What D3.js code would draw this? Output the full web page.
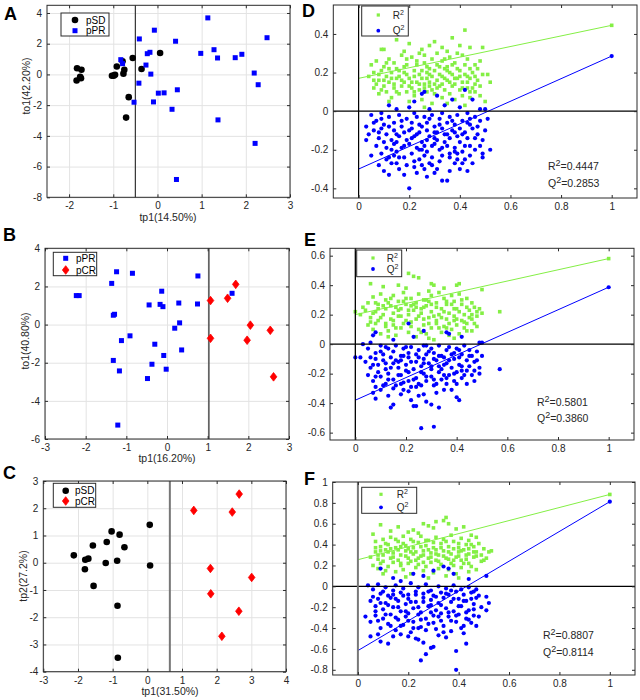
<!DOCTYPE html>
<html><head><meta charset="utf-8">
<script src="https://cdn.jsdelivr.net/npm/d3@7"></script>
<style>body{margin:0;background:#fff}svg{display:block;font-family:"Liberation Sans",Arial,sans-serif}</style>
</head><body><svg id="c" width="640" height="700"></svg>
<script>
// ---------- data: score plots ----------
const aSD = [[-1.82,0.4],[-1.72,0.3],[-1.83,-0.4],[-1.75,-0.15],[-1.73,-0.25],[-1.03,-0.09],[-0.96,-0.02],[-0.99,-0.08],[-0.92,0.52],[-0.79,0.85],[-0.75,0.3],[-0.77,0.05],[-0.56,1.07],[-0.36,0.35],[0.06,1.39],[-0.65,-1.48],[-0.71,-2.81]];
const aPR = [[-0.83,0.96],[-0.79,0.7],[-0.41,2.31],[-0.07,2.88],[0.41,2.16],[1.14,3.68],[-0.23,1.35],[-0.17,1.44],[-0.26,0.61],[-0.15,0.02],[-0.42,-0.57],[-0.53,-1.81],[-0.09,-1.79],[0.02,-1.22],[0.15,-1.2],[0.45,-1.0],[0.33,-2.27],[0.43,-6.84],[0.98,1.37],[1.28,1.61],[1.36,1.07],[1.76,1.09],[1.91,1.31],[2.19,0.09],[2.28,-0.67],[2.48,2.39],[1.37,-2.96],[2.21,-4.49]];
const bPR = [[-2.23,1.52],[-2.16,1.52],[-1.24,2.77],[-0.85,2.69],[-1.36,2.16],[-1.32,0.49],[-1.29,0.54],[-0.91,-0.59],[-1.12,-0.84],[-1.32,-1.88],[-1.17,-2.43],[-1.21,-5.27],[-0.44,1.03],[-0.13,1.75],[-0.17,1.06],[-0.10,0.94],[-0.3,-1.03],[-0.08,-1.62],[-0.37,-2.08],[-0.02,-2.34],[-0.48,-2.83],[0.29,1.13],[0.31,0.09],[0.19,-0.19],[0.36,-1.33],[0.76,2.55],[0.75,1.08],[1.6,1.64]];
const bCR = [[1.07,1.26],[1.07,-0.72],[1.49,1.38],[1.69,2.11],[2.05,-0.03],[1.97,-0.82],[2.54,-0.3],[2.62,-2.74]];
const cSD = [[-2.12,0.27],[-1.79,0.11],[-1.70,0.15],[-1.80,-0.24],[-1.57,0.63],[-1.55,-0.85],[-1.17,0.76],[-1.03,1.15],[-1.20,-0.01],[-0.87,0.07],[-0.80,1.03],[-0.66,0.57],[-0.86,-1.58],[-0.85,-3.49],[0.07,1.39],[0.08,-0.1]];
const cCR = [[1.34,1.92],[2.65,2.52],[2.45,1.86],[1.82,-0.21],[3.01,-0.54],[1.83,-1.14],[2.64,-1.78],[2.15,-2.7]];
const splitA = -0.5, splitB = 1.03, splitC = 0.65;
const labelsA = ["pSD","pPR"], labelsB = ["pPR","pCR"], labelsC = ["pSD","pCR"];
const axisTitles = {A:["tp1(14.50%)","to1(42.20%)"],B:["tp1(16.20%)","to1(40.80%)"],C:["tp1(31.50%)","tp2(27.2%)"]};

// ---------- data: permutation tests ----------
const dR2pts = [[.15,.37],[.42,.42],[.20,.35],[.37,.38],[.10,.32],[.09,.32],[.30,.36],[.33,.33],[.25,.32],[.40,.34],[.44,.33],[.49,.33],[.28,.34],[.18,.31],[.35,.31],
[.07,.26],[.12,.27],[.14,.25],[.17,.29],[.21,.28],[.23,.26],[.26,.29],[.29,.27],[.31,.30],[.33,.26],[.36,.28],[.38,.25],[.41,.29],[.43,.27],[.46,.24],[.48,.26],[.10,.23],[.19,.24],[.27,.23],[.35,.23],[.44,.22],[.05,.24],[.24,.30],[.39,.30],[.15,.22],
[.04,.18],[.06,.20],[.08,.16],[.09,.21],[.11,.18],[.12,.15],[.13,.20],[.15,.17],[.16,.21],[.18,.15],[.19,.19],[.20,.17],[.22,.21],[.23,.15],[.24,.19],[.25,.17],[.27,.20],[.28,.15],[.29,.18],[.30,.21],[.31,.16],[.32,.19],[.34,.17],[.35,.21],[.36,.15],[.37,.19],[.39,.17],[.40,.21],[.41,.15],[.42,.19],[.44,.17],[.45,.20],[.47,.16],[.49,.19],[.51,.19],[.52,.15],[.07,.14],[.26,.14],[.33,.14],[.46,.14],
[.06,.12],[.08,.09],[.10,.13],[.11,.10],[.13,.07],[.14,.12],[.16,.09],[.17,.13],[.19,.10],[.21,.12],[.22,.08],[.24,.11],[.25,.06],[.27,.10],[.28,.13],[.30,.09],[.31,.12],[.33,.07],[.34,.11],[.36,.09],[.37,.13],[.38,.06],[.40,.11],[.41,.08],[.43,.12],[.44,.07],[.46,.10],[.48,.08],[.50,.05],[.12,.05],[.20,.05],[.29,.04],[.35,.04],[.42,.03],[.26,.02],
[.08,.19],[.10,.16],[.12,.22],[.14,.14],[.16,.18],[.18,.23],[.20,.13],[.22,.18],[.23,.24],[.25,.21],[.26,.12],[.28,.22],[.29,.11],[.31,.24],[.32,.13],[.34,.22],[.35,.16],[.37,.24],[.38,.14],[.40,.18],[.42,.24],[.43,.15],[.45,.12],[.47,.22],[.09,.11],[.11,.25],[.13,.17],[.17,.16],[.19,.27],[.21,.15],[.24,.14],[.27,.17],[.30,.14],[.33,.18],[.36,.20],[.39,.22],[.41,.12],[.44,.10],[.46,.18],[.48,.13],[.15,.10],[.22,.10],[.28,.19],[.32,.23],[.38,.17],[.43,.18],[.06,.16],[.18,.20],[.26,.25],[.34,.27]];
const dQ2pts = [[.42,.11],[.26,.10],[.25,.09],[.31,.08],[.37,.06],[.45,.06],[.22,.05],[.12,.03],[.34,.03],[.20,.02],[.40,.02],[.48,.01],[.50,.01],[.15,.01],[.28,.01],
[.05,-.02],[.07,-.05],[.09,-.01],[.10,-.07],[.12,-.03],[.14,-.06],[.16,-.02],[.17,-.08],[.19,-.04],[.21,-.06],[.22,-.01],[.24,-.07],[.26,-.03],[.27,-.06],[.29,-.02],[.30,-.08],[.32,-.04],[.33,-.01],[.35,-.06],[.36,-.03],[.38,-.07],[.39,-.02],[.41,-.05],[.43,-.01],[.44,-.07],[.46,-.03],[.48,-.05],[.51,-.04],[.03,-.08],
[.04,-.12],[.06,-.10],[.08,-.14],[.09,-.09],[.11,-.12],[.13,-.15],[.14,-.10],[.16,-.13],[.18,-.11],[.19,-.15],[.21,-.09],[.22,-.13],[.24,-.11],[.25,-.16],[.27,-.10],[.28,-.13],[.30,-.11],[.31,-.15],[.33,-.09],[.34,-.12],[.36,-.14],[.37,-.10],[.39,-.13],[.40,-.16],[.42,-.11],[.43,-.14],[.45,-.09],[.47,-.12],[.49,-.15],[.52,-.20],
[.03,-.15],[.05,-.23],[.07,-.18],[.09,-.22],[.11,-.19],[.12,-.24],[.14,-.17],[.15,-.21],[.17,-.19],[.18,-.24],[.20,-.17],[.21,-.22],[.23,-.19],[.24,-.25],[.26,-.18],[.27,-.21],[.29,-.24],[.30,-.17],[.32,-.20],[.33,-.23],[.35,-.18],[.36,-.22],[.38,-.19],[.39,-.25],[.41,-.21],[.42,-.18],[.44,-.23],[.46,-.20],[.49,-.22],[.49,-.24],
[.08,-.28],[.10,-.31],[.12,-.33],[.13,-.27],[.16,-.30],[.18,-.33],[.20,-.40],[.22,-.29],[.23,-.32],[.25,-.28],[.27,-.34],[.28,-.27],[.31,-.30],[.33,-.36],[.35,-.36],[.36,-.31],[.38,-.27],[.40,-.30],[.41,-.27],[.43,-.31],[.15,-.27],[.30,-.32],[.26,-.30],
[.06,-.06],[.08,-.11],[.10,-.16],[.12,-.08],[.13,-.20],[.15,-.12],[.17,-.05],[.18,-.18],[.20,-.10],[.21,-.14],[.23,-.03],[.24,-.20],[.25,-.08],[.27,-.15],[.28,-.04],[.29,-.18],[.31,-.11],[.32,-.07],[.34,-.16],[.35,-.12],[.37,-.05],[.38,-.21],[.40,-.09],[.41,-.12],[.43,-.06],[.44,-.18],[.46,-.14],[.47,-.08],[.50,-.10],[.11,-.25],[.14,-.23],[.19,-.28],[.22,-.26],[.26,-.23],[.29,-.28],[.32,-.26],[.36,-.24],[.39,-.22],[.42,-.25],[.45,-.27],[.09,-.04],[.15,-.16],[.23,-.12],[.30,-.14],[.33,-.19],[.38,-.11],[.44,-.04],[.48,-.18],[.16,-.24],[.25,-.20]];
const eR2pts = [[.00,.22],[.57,.22],[.21,.48],[.23,.46],[.06,.41],[.25,.45],[.41,.41],[.40,.40],[.30,.41],[.31,.40],[.11,.39],[.17,.40],[.29,.36],[.50,.37],[.35,.38],[.20,.38],
[.05,.28],[.07,.32],[.09,.27],[.10,.34],[.12,.30],[.14,.26],[.15,.33],[.17,.29],[.19,.35],[.20,.27],[.22,.31],[.24,.28],[.25,.34],[.27,.30],[.28,.26],[.30,.33],[.32,.28],[.33,.35],[.35,.31],[.36,.27],[.38,.33],[.39,.29],[.41,.34],[.42,.27],[.44,.31],[.46,.28],[.47,.25],[.03,.25],[.48,.22],
[.02,.20],[.04,.23],[.06,.18],[.08,.22],[.09,.16],[.11,.20],[.12,.24],[.14,.17],[.15,.21],[.17,.19],[.18,.24],[.20,.16],[.21,.20],[.23,.23],[.24,.17],[.26,.21],[.27,.25],[.29,.18],[.30,.22],[.32,.16],[.33,.20],[.34,.24],[.36,.17],[.37,.21],[.39,.19],[.40,.24],[.42,.16],[.43,.20],[.45,.23],[.46,.17],[.48,.19],[.50,.21],
[.05,.13],[.07,.10],[.08,.14],[.10,.07],[.12,.12],[.13,.09],[.15,.13],[.16,.06],[.18,.11],[.19,.14],[.21,.08],[.22,.12],[.24,.05],[.25,.10],[.27,.13],[.28,.07],[.30,.11],[.31,.03],[.32,.14],[.34,.08],[.35,.12],[.37,.06],[.38,.10],[.40,.13],[.41,.07],[.43,.11],[.44,.14],[.46,.09],[.48,.12],[.39,.04],[.13,.05],[.29,.04],
[.07,.21],[.09,.24],[.10,.18],[.12,.14],[.13,.28],[.15,.16],[.16,.25],[.18,.19],[.19,.29],[.21,.23],[.22,.15],[.23,.27],[.25,.19],[.26,.24],[.28,.30],[.29,.14],[.31,.19],[.32,.25],[.33,.11],[.35,.22],[.36,.29],[.37,.14],[.39,.24],[.40,.17],[.42,.30],[.43,.15],[.44,.25],[.46,.20],[.47,.14],[.49,.24],[.08,.28],[.11,.26],[.14,.31],[.17,.23],[.20,.31],[.24,.25],[.27,.17],[.30,.27],[.34,.18],[.38,.27],[.41,.22],[.45,.18],[.06,.15],[.16,.11],[.26,.08],[.36,.11],[.44,.09],[.29,.29],[.22,.26],[.39,.16]];
const eQ2pts = [[.00,-.09],[.57,-.17],[.26,-.57],[.31,-.56],[.21,.14],[.08,.08],[.27,.09],[.36,.08],[.37,.07],[.03,.00],[.07,.06],[.49,.01],[.50,.01],[.15,.03],[.23,.05],[.42,.05],
[.05,-.03],[.08,-.06],[.10,-.01],[.11,-.07],[.13,-.03],[.15,-.05],[.16,-.01],[.18,-.08],[.19,-.03],[.21,-.06],[.22,-.02],[.24,-.07],[.25,-.04],[.27,-.01],[.28,-.07],[.30,-.03],[.31,-.06],[.33,-.01],[.34,-.08],[.36,-.04],[.37,-.02],[.39,-.06],[.40,-.03],[.42,-.07],[.43,-.01],[.45,-.04],[.46,-.08],[.48,-.05],[.50,-.08],[.06,.01],
[.04,-.12],[.06,-.16],[.08,-.10],[.09,-.14],[.11,-.11],[.12,-.17],[.14,-.09],[.15,-.13],[.17,-.16],[.18,-.11],[.20,-.14],[.21,-.09],[.23,-.17],[.24,-.12],[.26,-.15],[.27,-.10],[.29,-.13],[.30,-.17],[.32,-.11],[.33,-.15],[.35,-.09],[.36,-.13],[.38,-.16],[.39,-.10],[.41,-.14],[.42,-.18],[.44,-.11],[.45,-.15],[.47,-.12],[.49,-.16],[.02,-.09],
[.05,-.21],[.07,-.25],[.08,-.29],[.10,-.22],[.12,-.27],[.13,-.20],[.15,-.24],[.16,-.28],[.18,-.21],[.19,-.26],[.21,-.19],[.22,-.29],[.24,-.23],[.25,-.27],[.27,-.20],[.28,-.25],[.30,-.22],[.31,-.28],[.33,-.19],[.34,-.24],[.36,-.27],[.37,-.21],[.39,-.25],[.40,-.19],[.42,-.23],[.44,-.27],[.46,-.21],[.47,-.25],[.49,-.20],
[.07,-.33],[.08,-.37],[.10,-.31],[.14,-.43],[.15,-.41],[.18,-.34],[.21,-.32],[.22,-.38],[.23,-.42],[.24,-.42],[.25,-.35],[.27,-.34],[.28,-.39],[.30,-.41],[.33,-.43],[.35,-.31],[.40,-.36],[.41,-.38],[.13,-.35],[.19,-.31],[.32,-.33],[.38,-.31],
[.06,-.09],[.07,-.14],[.09,-.19],[.10,-.05],[.12,-.13],[.13,-.24],[.14,-.16],[.16,-.11],[.17,-.21],[.19,-.08],[.20,-.18],[.22,-.12],[.23,-.24],[.25,-.09],[.26,-.19],[.27,-.13],[.29,-.05],[.30,-.15],[.31,-.24],[.33,-.08],[.34,-.17],[.35,-.21],[.37,-.11],[.38,-.07],[.39,-.20],[.41,-.09],[.42,-.15],[.43,-.21],[.45,-.08],[.47,-.18],[.08,-.22],[.11,-.28],[.15,-.30],[.18,-.27],[.21,-.25],[.24,-.29],[.28,-.22],[.32,-.27],[.36,-.23],[.40,-.27],[.44,-.18],[.48,-.11],[.12,-.02],[.20,-.02],[.28,-.01],[.35,-.14],[.26,-.28],[.17,-.12],[.31,-.10],[.41,-.04]];
const fR2pts = [[.35,.66],[.31,.62],[.34,.63],[.09,.59],[.26,.60],[.28,.58],[.16,.57],[.22,.54],[.20,.52],[.36,.60],[.30,.56],[.42,.57],[.13,.53],[.06,.50],[.24,.51],[.45,.49],[.39,.55],
[.07,.43],[.09,.38],[.10,.45],[.12,.40],[.13,.47],[.15,.37],[.16,.43],[.18,.48],[.19,.39],[.21,.45],[.22,.37],[.24,.42],[.25,.48],[.27,.39],[.28,.44],[.30,.37],[.31,.47],[.33,.41],[.34,.45],[.36,.38],[.37,.49],[.38,.43],[.40,.37],[.41,.46],[.43,.40],[.44,.44],[.46,.38],[.47,.47],[.50,.36],
[.05,.28],[.07,.33],[.08,.26],[.10,.30],[.11,.35],[.13,.27],[.14,.32],[.16,.25],[.17,.30],[.19,.34],[.20,.27],[.22,.31],[.23,.25],[.25,.29],[.26,.34],[.28,.27],[.29,.32],[.31,.25],[.32,.30],[.34,.34],[.35,.27],[.37,.31],[.38,.25],[.40,.29],[.41,.34],[.43,.26],[.44,.31],[.46,.28],[.47,.33],[.49,.30],[.52,.33],[.53,.34],[.51,.27],[.50,.25],
[.06,.20],[.08,.17],[.09,.22],[.11,.15],[.12,.19],[.14,.23],[.15,.14],[.17,.20],[.18,.16],[.20,.22],[.21,.12],[.23,.18],[.24,.21],[.26,.15],[.27,.19],[.29,.23],[.30,.13],[.32,.17],[.33,.21],[.35,.10],[.36,.16],[.38,.20],[.39,.12],[.41,.18],[.42,.22],[.44,.14],[.45,.19],[.47,.16],[.19,.09],[.28,.08],[.40,.08],[.10,.12],
[.07,.37],[.08,.30],[.10,.24],[.11,.41],[.12,.33],[.14,.28],[.15,.45],[.16,.35],[.17,.22],[.18,.41],[.19,.29],[.20,.36],[.21,.24],[.22,.43],[.23,.33],[.24,.27],[.25,.38],[.26,.23],[.27,.44],[.28,.35],[.29,.28],[.30,.42],[.31,.31],[.32,.24],[.33,.37],[.34,.29],[.35,.43],[.36,.33],[.37,.22],[.38,.36],[.39,.28],[.40,.41],[.41,.25],[.42,.35],[.43,.30],[.44,.22],[.45,.40],[.46,.33],[.48,.41],[.49,.24],[.09,.34],[.13,.36],[.17,.38],[.21,.33],[.26,.30],[.31,.35],[.36,.26],[.40,.33],[.44,.36],[.47,.29]];
const fQ2pts = [[.09,.17],[.34,.19],[.36,.17],[.30,.15],[.51,.10],[.22,.12],[.14,.08],[.26,.10],[.44,.07],[.04,.01],[.17,.05],[.38,.12],
[.06,-.03],[.08,.02],[.09,-.07],[.11,-.01],[.12,-.09],[.14,-.04],[.15,.01],[.17,-.06],[.18,-.02],[.20,-.08],[.21,.03],[.23,-.05],[.24,-.01],[.26,-.07],[.27,.02],[.29,-.04],[.30,-.09],[.32,.00],[.33,-.06],[.35,-.02],[.36,-.08],[.38,.01],[.39,-.05],[.41,-.03],[.42,-.08],[.44,-.01],[.45,-.06],[.47,-.03],[.48,-.09],
[.05,-.14],[.07,-.19],[.08,-.12],[.10,-.22],[.11,-.16],[.13,-.11],[.14,-.20],[.16,-.14],[.17,-.24],[.19,-.17],[.20,-.12],[.22,-.21],[.23,-.15],[.25,-.25],[.26,-.11],[.28,-.19],[.29,-.13],[.31,-.23],[.32,-.16],[.34,-.11],[.35,-.21],[.37,-.15],[.38,-.24],[.40,-.12],[.41,-.19],[.43,-.14],[.44,-.23],[.46,-.17],[.47,-.11],[.52,-.16],[.51,-.10],[.51,-.23],[.49,-.20],
[.03,-.29],[.05,-.34],[.07,-.28],[.09,-.40],[.10,-.31],[.12,-.36],[.13,-.27],[.15,-.42],[.16,-.32],[.18,-.37],[.19,-.29],[.21,-.44],[.22,-.34],[.24,-.27],[.25,-.39],[.27,-.31],[.28,-.36],[.30,-.28],[.31,-.41],[.33,-.33],[.34,-.38],[.36,-.29],[.37,-.43],[.39,-.34],[.40,-.27],[.42,-.38],[.43,-.31],[.45,-.35],[.46,-.28],[.48,-.29],
[.05,-.48],[.09,-.53],[.12,-.55],[.17,-.46],[.20,-.48],[.23,-.50],[.24,-.51],[.25,-.71],[.27,-.65],[.29,-.59],[.30,-.58],[.26,-.54],[.32,-.47],[.39,-.62],[.39,-.80],[.43,-.55],[.35,-.49],[.14,-.48],[.08,-.46],
[.06,-.10],[.07,-.24],[.08,-.33],[.10,-.05],[.11,-.27],[.12,-.18],[.13,-.38],[.14,-.08],[.15,-.30],[.16,-.20],[.17,-.38],[.18,-.09],[.19,-.24],[.20,-.33],[.21,-.15],[.22,-.40],[.23,-.08],[.24,-.20],[.25,-.32],[.26,-.15],[.27,-.42],[.28,-.05],[.29,-.25],[.30,-.35],[.31,-.10],[.32,-.29],[.33,-.18],[.34,-.44],[.35,-.07],[.36,-.25],[.37,-.33],[.38,-.12],[.39,-.28],[.40,-.19],[.41,-.40],[.42,-.14],[.43,-.25],[.44,-.32],[.45,-.12],[.46,-.22],[.47,-.38],[.09,-.16],[.15,-.12],[.20,-.26],[.24,-.40],[.29,-.18],[.33,-.26],[.37,-.04],[.42,-.45],[.46,-.05]];
// model values (at x = 1) and regression intercepts (at x = 0)
const r2Model = {D:0.4447, E:0.5801, F:0.8807};
const q2Model = {D:0.2853, E:0.3860, F:0.8114};
const r2Intercept = {D:0.17, E:0.20, F:0.255};
const q2Intercept = {D:-0.30, E:-0.38, F:-0.616};
const r2Label = {D:"0.4447", E:"0.5801", F:"0.8807"};
const q2Label = {D:"0.2853", E:"0.3860", F:"0.8114"};

// ---------- drawing ----------
const svg = d3.select("#c");
const GREEN = "#84ef45", BLUE = "#0000ff", RED = "#ff0000", AX = "#2b2b2b";
const fmt = d => String(+d.toFixed(2));

function panel(o){
  const [l,t,r,b] = o.box;
  const x = d3.scaleLinear().domain(o.xd).range([l,r]);
  const y = d3.scaleLinear().domain(o.yd).range([b,t]);
  const g = svg.append("g");
  if (o.grid){
    const gg = g.append("g");
    gg.append("g").attr("transform",`translate(0,${b})`).call(d3.axisBottom(x).tickValues(o.xt).tickSize(-(b-t)).tickFormat(""));
    gg.append("g").attr("transform",`translate(${l},0)`).call(d3.axisLeft(y).tickValues(o.yt).tickSize(-(r-l)).tickFormat(""));
    gg.selectAll(".domain").remove();
    gg.selectAll("line").attr("stroke","#e3e3e3").attr("stroke-width",1);
  }
  const layer = g.append("g");
  const top = svg.append("g");
  const ax = top.append("g").attr("font-family",'"Liberation Sans",Arial,sans-serif');
  ax.append("g").attr("transform",`translate(0,${b})`).call(d3.axisBottom(x).tickValues(o.xt).tickSizeInner(-3).tickSizeOuter(0).tickPadding(5).tickFormat(fmt));
  ax.append("g").attr("transform",`translate(${l},0)`).call(d3.axisLeft(y).tickValues(o.yt).tickSizeInner(-3).tickSizeOuter(0).tickPadding(5).tickFormat(fmt));
  ax.append("g").attr("transform",`translate(0,${t})`).call(d3.axisTop(x).tickValues(o.xt).tickSizeInner(-3).tickSizeOuter(0).tickFormat(""));
  ax.append("g").attr("transform",`translate(${r},0)`).call(d3.axisRight(y).tickValues(o.yt).tickSizeInner(-3).tickSizeOuter(0).tickFormat(""));
  ax.selectAll(".domain").remove();
  ax.selectAll("line").attr("stroke",AX);
  ax.selectAll("text").attr("font-size",10).attr("fill","#262626");
  top.append("rect").attr("x",l).attr("y",t).attr("width",r-l).attr("height",b-t).attr("fill","none").attr("stroke",AX).attr("stroke-width",1);
  return {x,y,layer,top};
}

function circle(sel, data, p){ sel.selectAll(null).data(data).enter().append("circle").attr("cx",d=>p.x(d[0])).attr("cy",d=>p.y(d[1])).attr("r",3.3).attr("fill","#000"); }
function square(sel, data, p, s=5){ sel.selectAll(null).data(data).enter().append("rect").attr("x",d=>p.x(d[0])-s/2).attr("y",d=>p.y(d[1])-s/2).attr("width",s).attr("height",s).attr("fill",BLUE); }
function diamond(sel, data, p){ sel.selectAll(null).data(data).enter().append("path").attr("d","M0,-4.3L3.3,0L0,4.3L-3.3,0Z").attr("transform",d=>`translate(${p.x(d[0])},${p.y(d[1])})`).attr("fill",RED).attr("stroke",RED).attr("stroke-width",0.8); }
function legend(sel, box){
  sel.append("rect").attr("x",box[0]).attr("y",box[1]).attr("width",box[2]-box[0]).attr("height",box[3]-box[1]).attr("fill","#fff").attr("stroke",AX).attr("stroke-width",1);
}
function panelLetter(txt, x, y){ svg.append("text").attr("x",x).attr("y",y).attr("font-size",18).attr("font-weight","bold").attr("fill","#000").text(txt); }
function xTitle(txt, x, y, clip){ const t = svg.append("text").attr("x",x).attr("y",y).attr("text-anchor","middle").attr("font-size",10.5).attr("fill","#262626").text(txt); if(clip) t.attr("clip-path",clip); }
function yTitle(txt, x, y){ svg.append("text").attr("transform",`translate(${x},${y}) rotate(-90)`).attr("text-anchor","middle").attr("font-size",10.5).attr("fill","#262626").text(txt); }

svg.append("defs").append("clipPath").attr("id","clipB").append("rect").attr("x",0).attr("y",440).attr("width",320).attr("height",24);

// ---- A ----
{
  const p = panel({box:[47,5.3,290,197.3], xd:[-2.5,3], yd:[-8,4.5], xt:[-2,-1,0,1,2,3], yt:[-8,-6,-4,-2,0,2,4], grid:true});
  p.layer.append("line").attr("x1",p.x(splitA)).attr("x2",p.x(splitA)).attr("y1",p.y(-8)).attr("y2",p.y(4.5)).attr("stroke","#333").attr("stroke-width",1.2);
  circle(p.layer, aSD, p); square(p.layer, aPR, p);
  legend(p.top, [61,13,109,36]);
  p.top.append("circle").attr("cx",75).attr("cy",20).attr("r",3.3).attr("fill","#000");
  p.top.append("rect").attr("x",72.5).attr("y",28.2).attr("width",5).attr("height",5).attr("fill",BLUE);
  p.top.append("text").attr("x",86).attr("y",23.5).attr("font-size",10).text(labelsA[0]);
  p.top.append("text").attr("x",86).attr("y",34).attr("font-size",10).text(labelsA[1]);
  panelLetter("A", 4, 20);
  xTitle(axisTitles.A[0], 168, 221);
  yTitle(axisTitles.A[1], 30, 86);
}
// ---- B ----
{
  const p = panel({box:[45,248.3,289,439], xd:[-3,3], yd:[-6,4], xt:[-3,-2,-1,0,1,2,3], yt:[-6,-4,-2,0,2,4], grid:true});
  p.layer.append("line").attr("x1",p.x(splitB)).attr("x2",p.x(splitB)).attr("y1",p.y(-6)).attr("y2",p.y(4)).attr("stroke","#444").attr("stroke-width",1.4);
  square(p.layer, bPR, p); diamond(p.layer, bCR, p);
  legend(p.top, [53.3,252.3,96.7,275.7]);
  p.top.append("rect").attr("x",63.2).attr("y",255.8).attr("width",5).attr("height",5).attr("fill",BLUE);
  p.top.append("path").attr("d","M0,-4.3L3.3,0L0,4.3L-3.3,0Z").attr("transform","translate(65.7,270)").attr("fill",RED).attr("stroke",RED).attr("stroke-width",0.8);
  p.top.append("text").attr("x",76).attr("y",261.8).attr("font-size",10).text(labelsB[0]);
  p.top.append("text").attr("x",76).attr("y",273.5).attr("font-size",10).text(labelsB[1]);
  panelLetter("B", 3, 241);
  xTitle(axisTitles.B[0], 167, 462, "url(#clipB)");
  yTitle(axisTitles.B[1], 29, 341);
}
// ---- C ----
{
  const p = panel({box:[43.3,481,286,671.7], xd:[-3,4], yd:[-4,3], xt:[-3,-2,-1,0,1,2,3,4], yt:[-4,-3,-2,-1,0,1,2,3], grid:true});
  p.layer.append("line").attr("x1",p.x(splitC)).attr("x2",p.x(splitC)).attr("y1",p.y(-4)).attr("y2",p.y(3)).attr("stroke","#777").attr("stroke-width",2);
  circle(p.layer, cSD, p); diamond(p.layer, cCR, p);
  legend(p.top, [53.3,483.3,95.7,507.3]);
  p.top.append("circle").attr("cx",65.7).attr("cy",490.7).attr("r",3.3).attr("fill","#000");
  p.top.append("path").attr("d","M0,-4.3L3.3,0L0,4.3L-3.3,0Z").attr("transform","translate(65.7,501)").attr("fill",RED).attr("stroke",RED).attr("stroke-width",0.8);
  p.top.append("text").attr("x",75).attr("y",494.2).attr("font-size",10).text(labelsC[0]);
  p.top.append("text").attr("x",75).attr("y",504.5).attr("font-size",10).text(labelsC[1]);
  panelLetter("C", 3, 479);
  xTitle(axisTitles.C[0], 170, 695);
  yTitle(axisTitles.C[1], 27, 576);
}

// ---- permutation panels ----
function perm(key, box, yd, yt, r2pts, q2pts, leg, ann, zeroStyle){
  const p = panel({box, xd:[-0.1,1.1], yd, xt:[0,0.2,0.4,0.6,0.8,1], yt, grid:false});
  const L = p.layer, s = 3.6, rr = 2.1;
  L.selectAll(null).data(r2pts.concat([[1, r2Model[key]]])).enter().append("rect")
    .attr("x",d=>p.x(d[0])-s/2).attr("y",d=>p.y(d[1])-s/2).attr("width",s).attr("height",s).attr("fill",GREEN);
  L.selectAll(null).data(q2pts.concat([[1, q2Model[key]]])).enter().append("circle")
    .attr("cx",d=>p.x(d[0])).attr("cy",d=>p.y(d[1])).attr("r",rr).attr("fill",BLUE);
  const line = d3.line().x(d=>p.x(d[0])).y(d=>p.y(d[1]));
  L.append("path").attr("d",line([[0,r2Intercept[key]],[1,r2Model[key]]])).attr("stroke",GREEN).attr("stroke-width",1).attr("fill","none");
  L.append("path").attr("d",line([[0,q2Intercept[key]],[1,q2Model[key]]])).attr("stroke",BLUE).attr("stroke-width",1).attr("fill","none");
  L.append("line").attr("x1",p.x(-0.1)).attr("x2",p.x(1.1)).attr("y1",p.y(0)).attr("y2",p.y(0)).attr("stroke","#000").attr("stroke-width",1.2);
  L.append("line").attr("x1",p.x(0)).attr("x2",p.x(0)).attr("y1",p.y(yd[0])).attr("y2",p.y(yd[1])).attr("stroke",zeroStyle[0]).attr("stroke-width",zeroStyle[1]);
  legend(p.top, leg.box);
  p.top.append("rect").attr("x",leg.mx-1.6).attr("y",leg.r1-1.6).attr("width",3.2).attr("height",3.2).attr("fill",GREEN);
  p.top.append("circle").attr("cx",leg.mx).attr("cy",leg.r2).attr("r",1.9).attr("fill",BLUE);
  const t1 = p.top.append("text").attr("x",leg.tx).attr("y",leg.r1+3.5).attr("font-size",10).attr("fill","#262626");
  t1.append("tspan").text("R"); t1.append("tspan").attr("dy",-4).attr("font-size",7).text("2");
  const t2 = p.top.append("text").attr("x",leg.tx).attr("y",leg.r2+3.5).attr("font-size",10).attr("fill","#262626");
  t2.append("tspan").text("Q"); t2.append("tspan").attr("dy",-4).attr("font-size",7).text("2");
  const a1 = p.top.append("text").attr("x",ann[0]).attr("y",ann[1]).attr("font-size",10.5).attr("fill","#262626");
  a1.append("tspan").text("R"); a1.append("tspan").attr("dy",-4.5).attr("font-size",9).text("2"); a1.append("tspan").attr("dy",4.5).text("=" + r2Label[key]);
  const a2 = p.top.append("text").attr("x",ann[0]).attr("y",ann[2]).attr("font-size",10.5).attr("fill","#262626");
  a2.append("tspan").text("Q"); a2.append("tspan").attr("dy",-4.5).attr("font-size",9).text("2"); a2.append("tspan").attr("dy",4.5).text("=" + q2Label[key]);
}
perm("D",[333.3,5,637,198],[-0.45,0.55],[-0.4,-0.2,0,0.2,0.4],dR2pts,dQ2pts,{box:[361.7,6,408.3,36],mx:378.3,tx:392.7,r1:15,r2:30.7},[548,170,187],["#000",1.2]);
perm("E",[330,248.3,634,440],[-0.65,0.65],[-0.6,-0.4,-0.2,0,0.2,0.4,0.6],eR2pts,eQ2pts,{box:[356.7,250,401.7,276.7],mx:373,tx:386.7,r1:258,r2:269},[537,406,422],["#000",1.3]);
perm("F",[332.7,482,635,675],[-0.85,1],[-0.8,-0.6,-0.4,-0.2,0,0.2,0.4,0.6,0.8,1],fR2pts,fQ2pts,{box:[361.7,487.3,416.7,513.3],mx:381,tx:396.7,r1:494.3,r2:507.3},[543,639,656],["#777",2]);
panelLetter("D", 302, 17);
panelLetter("E", 304, 246);
panelLetter("F", 304, 485);
</script></body></html>
